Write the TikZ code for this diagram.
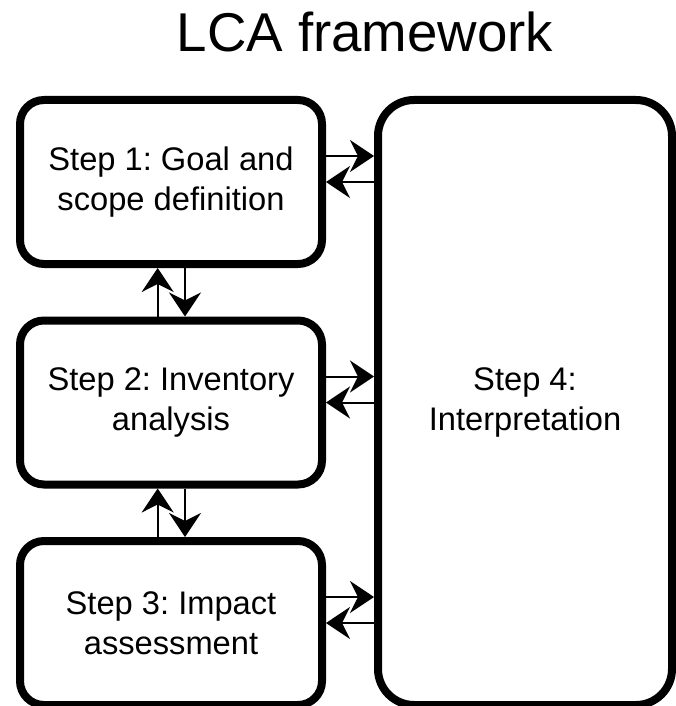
\documentclass[tikz,border=0pt]{standalone}
\usepackage{fontspec}
\setmainfont{Liberation Sans}
\usetikzlibrary{arrows.meta}
\frenchspacing

\begin{document}
\begin{tikzpicture}[x=0.75pt,y=-0.75pt,stage/.style={shape=rectangle,draw=black,line width=6pt,rounded corners=18pt,minimum width=226.5pt,minimum height=123pt,align=center,font=\fontsize{24.5}{30}\selectfont},stageL/.style={stage,rounded corners=27pt,minimum width=220.5pt,minimum height=453.75pt},flow/.style={line width=1.5pt,-{Stealth[length=18pt,width=24pt,inset=6pt]}}]
\def\dya{19.5pt};
\def\dxa{-10pt};
\def\dxb{10.5pt};

\useasboundingbox (0,0) rectangle (675,706);

\node[font=\fontsize{41}{49}\selectfont,anchor=base] (T) at (365,52) {LCA framework};

\node[stage] (G) at (171,182) {Step 1: Goal and\\scope definition};
\node[stage] (V) at (171,402.5) {Step 2: Inventory\\analysis};
\node[stage] (M) at (171,623) {Step 3: Impact\\assessment};
\node[stageL] (I) at (525,402.5) {Step 4:\\Interpretation};

\draw[flow] ([yshift=\dya]G.east) -- ([yshift=\dya]G.east -| I.west);
\draw[flow] (G.east -| I.west) -- (G.east);
\draw[flow] ([yshift=\dya]V.east) -- ([yshift=\dya]V.east -| I.west);
\draw[flow] (V.east -| I.west) -- (V.east);
\draw[flow] ([yshift=\dya]M.east) -- ([yshift=\dya]M.east -| I.west);
\draw[flow] (M.east -| I.west) -- (M.east);

\draw[flow] ([xshift=\dxa]V.north) -- ([xshift=\dxa]V.north |- G.south);
\draw[flow] ([xshift=\dxb]V.north |- G.south) -- ([xshift=\dxb]V.north);
\draw[flow] ([xshift=\dxa]M.north) -- ([xshift=\dxa]M.north |- V.south);
\draw[flow] ([xshift=\dxb]M.north |- V.south) -- ([xshift=\dxb]M.north);
\end{tikzpicture}
\end{document}
